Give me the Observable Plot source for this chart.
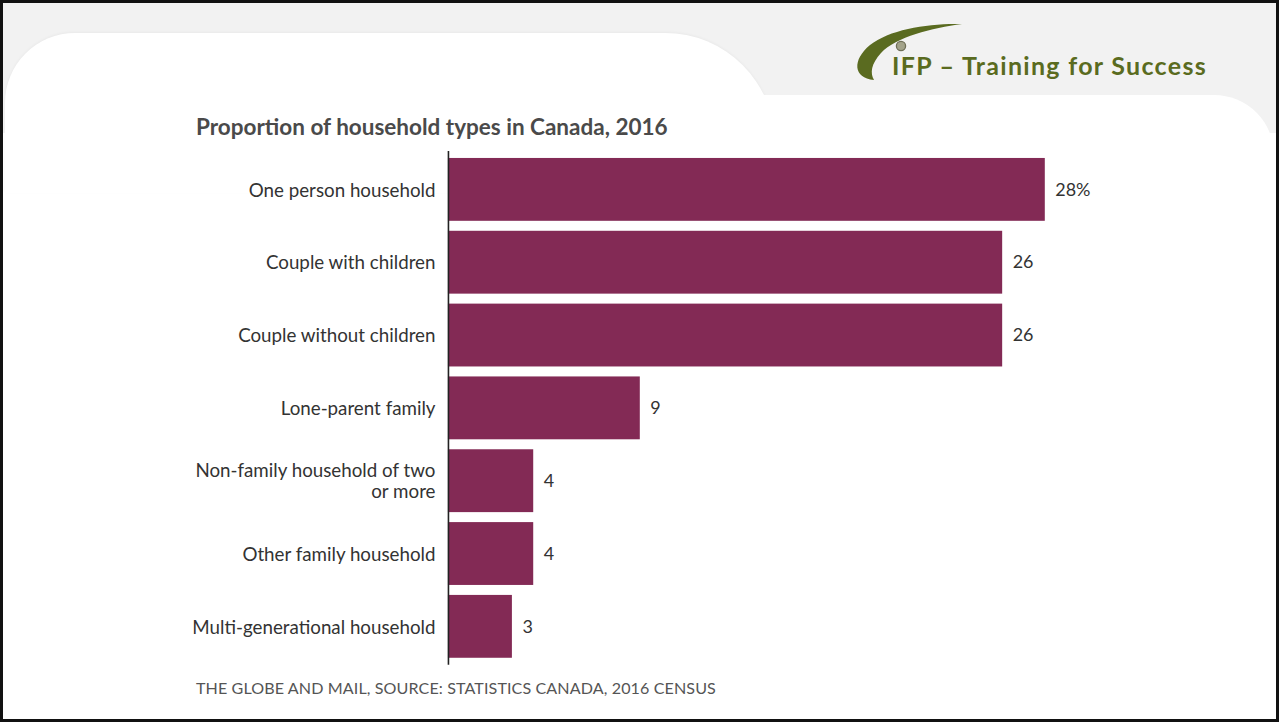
<!DOCTYPE html>
<html>
<head>
<meta charset="utf-8">
<script src="https://cdn.jsdelivr.net/npm/d3@7"></script>
<script src="https://cdn.jsdelivr.net/npm/@observablehq/plot@0.6"></script>
<style>
  html, body { margin: 0; padding: 0; background: #fff; }
  #frame { position: relative; width: 1279px; height: 722px; box-sizing: border-box;
           border: 3px solid #111; background: #fff; overflow: hidden; font-family: Lato, sans-serif; }
  #band { position: absolute; left: 0; top: 0; width: 100%; height: 130px; background: #f2f2f2; }
  #w1 { position: absolute; left: 2px; top: 30px; width: 770px; height: 160px; background: #fff;
        border-radius: 70px 110px 0 0; box-shadow: 0 -1px 3px rgba(0,0,0,0.04); }
  #w2 { position: absolute; left: 700px; top: 92px; right: 2px; height: 120px; background: #fff;
        border-radius: 0 60px 0 0; }
  #logo { position: absolute; left: 847px; top: 11px; }
  #logotext { position: absolute; left: 889px; top: 47px; font-family: Lato, sans-serif; font-weight: 700;
              font-size: 25px; color: #5a6b20; letter-spacing: 1.3px; white-space: nowrap; }
  #title { position: absolute; left: 193px; top: 110px; font-family: Lato, sans-serif; font-weight: 700;
           font-size: 22.5px; color: #4a4a4a; white-space: nowrap; }
  #chart { position: absolute; left: -3px; top: 138px; }
  #caption { position: absolute; left: 193px; top: 675px; font-family: Lato, sans-serif;
             font-size: 16.1px; color: #555; white-space: nowrap; letter-spacing: 0.1px; }
</style>
</head>
<body>
<div id="frame">
  <div id="band"></div>
  <div id="w1"></div>
  <div id="w2"></div>
  <svg id="logo" width="130" height="75" viewBox="0 0 130 75">
    <path d="M24,66 C3,64 2,46 20,31 C40,15 80,9 112,10 C82,14 46,23 31,39 C21,50 20,59 24,66 Z" fill="#5a6b20"/>
    <circle cx="51" cy="32" r="4.6" fill="#a3a38a" stroke="#6f6f57" stroke-width="1.3"/>
  </svg>
  <div id="logotext">IFP – Training for Success</div>
  <div id="title">Proportion of household types in Canada, 2016</div>
  <div id="chart"></div>
  <div id="caption">THE GLOBE AND MAIL, SOURCE: STATISTICS CANADA, 2016 CENSUS</div>
</div>
<script>
const categories = [
  "One person household",
  "Couple with children",
  "Couple without children",
  "Lone-parent family",
  "Non-family household of two or more",
  "Other family household",
  "Multi-generational household"
];
const values = [28, 26, 26, 9, 4, 4, 3];
const valueLabels = ["28%", "26", "26", "9", "4", "4", "3"];
const tickLabels = [
  "One person household",
  "Couple with children",
  "Couple without children",
  "Lone-parent family",
  "Non-family household of two\nor more",
  "Other family household",
  "Multi-generational household"
];

const data = categories.map((c, i) => ({type: c, value: values[i], label: valueLabels[i]}));
const tickMap = new Map(categories.map((c, i) => [c, tickLabels[i]]));

const chart = Plot.plot({
  width: 1279,
  height: 533,
  marginTop: 10,
  marginBottom: 8,
  marginLeft: 449,
  marginRight: 189,
  style: {fontFamily: "Lato, sans-serif", background: "transparent", color: "#333"},
  x: {domain: [0, 30], axis: null},
  y: {domain: categories, paddingInner: 0.14, paddingOuter: 0.07, label: null},
  marks: [
    Plot.barX(data, {x: "value", y: "type", fill: "#832a55"}),
    Plot.text(data, {x: "value", y: "type", text: "label", dx: 10, textAnchor: "start",
                     fontSize: 18, fill: "#333"}),
    Plot.axisY({tickSize: 0, tickPadding: 13, fontSize: 18.8, lineHeight: 1.12, fill: "#333",
                tickFormat: d => tickMap.get(d), label: null}),
    Plot.ruleX([0], {stroke: "#222", strokeWidth: 1.6})
  ]
});
document.getElementById("chart").appendChild(chart);
</script>
</body>
</html>
